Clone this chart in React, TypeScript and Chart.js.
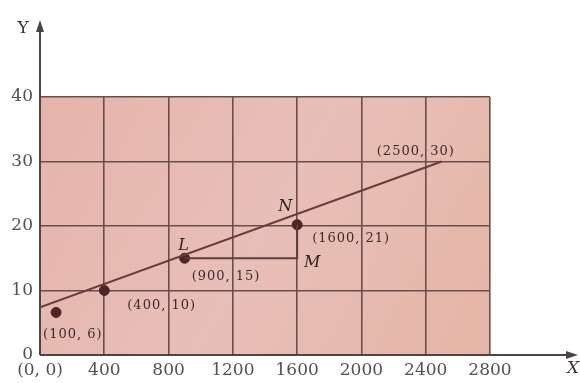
import React, { useEffect, useRef } from "react";
import { Chart, registerables } from "chart.js";

Chart.register(...registerables);

const xTicks = [0, 400, 800, 1200, 1600, 2000, 2400, 2800];
const yTicks = [0, 10, 20, 30, 40];
const fitLineX = [0, 2500];
const fitLineY = [7.4, 30];
const pointX = [100, 400, 900, 1600];
const pointY = [6.6, 10, 15, 20.2];
const pointLabels = ["(100, 6)", "(400, 10)", "(900, 15)", "(1600, 21)"];
const endLabel = "(2500, 30)";

const SERIF = "'DejaVu Serif', 'Liberation Serif', serif";

const decor = {
  id: "decor",
  beforeDraw(chart: any) {
    const { ctx, chartArea: a } = chart;
    ctx.save();
    const g = ctx.createLinearGradient(a.left, a.top, a.right, a.bottom);
    g.addColorStop(0, "#e5b4aa");
    g.addColorStop(0.5, "#e8bfb8");
    g.addColorStop(1, "#e5b5a6");
    ctx.fillStyle = g;
    ctx.fillRect(a.left, a.top, a.right - a.left, a.bottom - a.top);
    ctx.restore();
  },
  afterDraw(chart: any) {
    const { ctx, scales } = chart;
    const xs = scales.x;
    const ys = scales.y;
    const x0 = xs.getPixelForValue(0);
    const y0 = ys.getPixelForValue(0);
    ctx.save();
    ctx.strokeStyle = "#4d4545";
    ctx.fillStyle = "#4d4545";
    ctx.lineWidth = 2;
    // x axis
    const xEnd = 578;
    ctx.beginPath();
    ctx.moveTo(x0, y0);
    ctx.lineTo(xEnd - 6, y0);
    ctx.stroke();
    ctx.beginPath();
    ctx.moveTo(xEnd, y0);
    ctx.lineTo(xEnd - 12, y0 - 4);
    ctx.lineTo(xEnd - 12, y0 + 4);
    ctx.closePath();
    ctx.fill();
    // y axis
    const yEnd = 20;
    ctx.beginPath();
    ctx.moveTo(x0, y0);
    ctx.lineTo(x0, yEnd + 6);
    ctx.stroke();
    ctx.beginPath();
    ctx.moveTo(x0, yEnd);
    ctx.lineTo(x0 - 4, yEnd + 12);
    ctx.lineTo(x0 + 4, yEnd + 12);
    ctx.closePath();
    ctx.fill();
    // axis names
    ctx.fillStyle = "#3a3333";
    ctx.textAlign = "center";
    ctx.textBaseline = "middle";
    ctx.font = "italic 17px " + SERIF;
    ctx.fillText("X", 573, 369);
    ctx.font = "17px " + SERIF;
    ctx.fillText("Y", 23, 29);

    // point labels
    ctx.fillStyle = "#3a2c2c";
    ctx.font = "13px " + SERIF;
    (ctx as any).letterSpacing = "1px";
    ctx.textAlign = "left";
    const offs = [
      [-13, 22],
      [23, 15],
      [7, 18],
      [15, 14],
    ];
    pointX.forEach((v, i) => {
      const px = xs.getPixelForValue(v);
      const py = ys.getPixelForValue(pointY[i]);
      ctx.fillText(pointLabels[i], px + offs[i][0], py + offs[i][1]);
    });
    ctx.fillText(
      endLabel,
      xs.getPixelForValue(fitLineX[1]) - 65,
      ys.getPixelForValue(fitLineY[1]) - 10
    );
    (ctx as any).letterSpacing = "0px";
    // L, M, N
    ctx.font = "italic 16px " + SERIF;
    ctx.fillStyle = "#2e2424";
    ctx.textAlign = "center";
    ctx.fillText("L", xs.getPixelForValue(pointX[2]) - 1, ys.getPixelForValue(pointY[2]) - 12);
    ctx.fillText("M", xs.getPixelForValue(pointX[3]) + 15, ys.getPixelForValue(pointY[2]) + 5);
    ctx.fillText("N", xs.getPixelForValue(pointX[3]) - 12, ys.getPixelForValue(pointY[3]) - 18);
    ctx.restore();
  },
};

export default function App() {
  const ref = useRef<HTMLCanvasElement | null>(null);
  useEffect(() => {
    if (!ref.current) return;
    const chart = new Chart(ref.current, {
      type: "scatter",
      data: {
        datasets: [
          {
            data: fitLineX.map((x, i) => ({ x, y: fitLineY[i] })),
            showLine: true,
            borderColor: "#6a3c3c",
            borderWidth: 2,
            pointRadius: 0,
          },
          {
            data: [
              { x: pointX[2], y: pointY[2] },
              { x: pointX[3], y: pointY[2] },
              { x: pointX[3], y: pointY[3] },
            ],
            showLine: true,
            borderColor: "#5a4040",
            borderWidth: 2,
            pointRadius: 0,
          },
          {
            data: pointX.map((x, i) => ({ x, y: pointY[i] })),
            showLine: false,
            backgroundColor: "#4e2424",
            borderColor: "#4e2424",
            pointRadius: 5,
          },
        ],
      },
      options: {
        animation: false,
        responsive: false,
        layout: { padding: { top: 97, right: 90, left: 0, bottom: 0 } },
        plugins: { legend: { display: false }, tooltip: { enabled: false } },
        scales: {
          x: {
            type: "linear",
            min: 0,
            max: 2800,
            afterBuildTicks: (s: any) => {
              s.ticks = xTicks.map((v) => ({ value: v }));
            },
            afterFit: (s: any) => {
              s.height = 28;
            },
            border: { display: false },
            grid: { color: "#6a4e4e", lineWidth: 1.6, drawTicks: false },
            ticks: {
              padding: 5,
              color: "#555050",
              font: { family: SERIF, size: 17 },
              maxRotation: 0,
              autoSkip: false,
              callback: (v: any) => (v === 0 ? "(0, 0)" : String(v)),
            },
          },
          y: {
            type: "linear",
            min: 0,
            max: 40,
            afterBuildTicks: (s: any) => {
              s.ticks = yTicks.map((v) => ({ value: v }));
            },
            afterFit: (s: any) => {
              s.width = 40;
            },
            border: { display: false },
            grid: { color: "#6a4e4e", lineWidth: 1.6, drawTicks: false },
            ticks: {
              padding: 7,
              color: "#555050",
              font: { family: SERIF, size: 17 },
            },
          },
        },
      },
      plugins: [decor],
    } as any);
    return () => chart.destroy();
  }, []);
  return (
    <div style={{ position: "absolute", left: 0, top: 0, width: 580, height: 383, background: "#fff" }}>
      <canvas ref={ref} width={580} height={383} style={{ display: "block" }} />
    </div>
  );
}
